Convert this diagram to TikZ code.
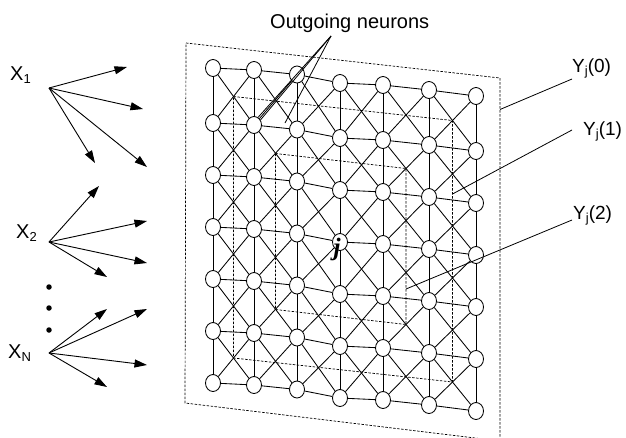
\documentclass[tikz,border=0pt]{standalone}
\usepackage{fontspec}
\setmainfont{Liberation Sans}
\newfontfamily\jfont{Liberation Serif}
\usetikzlibrary{arrows.meta,shapes.geometric,calc}
\newcommand\lsub[1]{\raisebox{-0.35ex}{\fontsize{13}{13}\selectfont #1}}
\begin{document}
\begin{tikzpicture}[x=1pt,y=-1pt,
  neuron/.style={ellipse,draw,fill=white,line width=0.85pt,minimum width=15pt,minimum height=17pt,inner sep=0pt},
  link/.style={line width=0.85pt},
  zone/.style={line width=0.7pt,dash pattern=on 2.5pt off 1.5pt},
  leader/.style={line width=0.8pt},
  inarrow/.style={line width=0.9pt,-{Triangle[length=12.5pt,width=8pt]}},
  lbl/.style={inner sep=0pt,anchor=base west,font=\fontsize{20}{24}\selectfont},
  ylbl/.style={inner sep=0pt,anchor=base west,font=\fontsize{19}{23}\selectfont},
  dot/.style={circle,fill=black,minimum size=5.5pt,inner sep=0pt},
]
\useasboundingbox (0,0) rectangle (626,437);

% outer plane Y_j(0)
\coordinate (o1) at (186,43);
\coordinate (o2) at (500,78);
\coordinate (o3) at (500,441);
\coordinate (o4) at (185,403);
\draw[zone] (o1) -- (o2) -- (o3) -- (o4) -- cycle;

% neighbourhood Y_j(1)
\coordinate (p1) at (233.5,96.5);
\coordinate (p2) at (452.5,120.5);
\coordinate (p3) at (452.5,382);
\coordinate (p4) at (233.5,358);
\draw[zone] (p1) -- (p2) -- (p3) -- (p4) -- cycle;

% neighbourhood Y_j(2)
\coordinate (q1) at (275.5,153.5);
\coordinate (q2) at (406,168.5);
\coordinate (q3) at (406,324.5);
\coordinate (q4) at (275.5,309.5);
\draw[zone] (q1) -- (q2) -- (q3) -- (q4) -- cycle;

% neurons
\foreach \c/\x/\o in {1/213/0,2/254/2,3/297/6.5,4/340/15,5/383/17,6/429/22,7/476/28}{
  \foreach \r/\b in {1/68,2/123,3/175,4/227,5/279,6/331,7/383}{
    \node[neuron] (n\c\r) at (\x,\b+\o) {};}}

% horizontal links
\foreach \c [evaluate=\c as \cn using int(\c+1)] in {1,...,6}{
  \foreach \r in {1,...,7}{
    \draw[link] (n\c\r) -- (n\cn\r);}}
% vertical links
\foreach \c in {1,...,7}{
  \foreach \r [evaluate=\r as \rn using int(\r+1)] in {1,...,6}{
    \draw[link] (n\c\r) -- (n\c\rn);}}
% diagonal links
\foreach \c [evaluate=\c as \cn using int(\c+1)] in {1,...,6}{
  \foreach \r [evaluate=\r as \rn using int(\r+1)] in {1,...,6}{
    \draw[link] (n\c\r) -- (n\cn\rn);
    \draw[link] (n\cn\r) -- (n\c\rn);}}

% labels for the grid
\node[inner sep=0pt,font={\fontsize{25}{28}\jfont\bfseries\itshape}] (jl) at (337,249) {j};
\node[lbl] (out) at (270,28) {Outgoing neurons};
\coordinate (apex) at (331,36);
\coordinate (oc) at (285,123);
\draw[leader] (apex) -- (n22.62);
\draw[leader] (apex) -- (n22.38);
\draw[leader] (apex) -- (oc);

\node[ylbl] (y0) at (572,72) {Y\lsub{j}(0)};
\node[ylbl] (y1) at (583,135) {Y\lsub{j}(1)};
\node[ylbl] (y2) at (573,219) {Y\lsub{j}(2)};
\coordinate (l0) at (572,79);   \coordinate (l0e) at (500,109.5);
\coordinate (l1) at (572,130);  \coordinate (l1e) at (452.5,194);
\coordinate (l2) at (572,220);  \coordinate (l2e) at (406,289);
\draw[leader] (l0) -- (l0e);
\draw[leader] (l1) -- (l1e);
\draw[leader] (l2) -- (l2e);

% inputs
\node[lbl] (x1) at (10,80) {X\lsub{1}};
\node[lbl] (x2) at (16,238) {X\lsub{2}};
\node[lbl] (xn) at (8,358) {X\lsub{N}};
\coordinate (a1) at (49,88);
\coordinate (a2) at (49,242);
\coordinate (an) at (49,353);
\foreach \i/\p in {1/{127,67},2/{143,109},3/{95,163},4/{147,167}}{
  \coordinate (t1\i) at (\p); \draw[inarrow] (a1) -- (t1\i);}
\foreach \i/\p in {1/{99,186},2/{147,221},3/{147,263},4/{107,277}}{
  \coordinate (t2\i) at (\p); \draw[inarrow] (a2) -- (t2\i);}
\foreach \i/\p in {1/{107,309},2/{147,309},3/{147,365},4/{107,387}}{
  \coordinate (tn\i) at (\p); \draw[inarrow] (an) -- (tn\i);}
\node[dot] (d1) at (49,287) {};
\node[dot] (d2) at (49,308) {};
\node[dot] (d3) at (49,330) {};
\end{tikzpicture}
\end{document}
